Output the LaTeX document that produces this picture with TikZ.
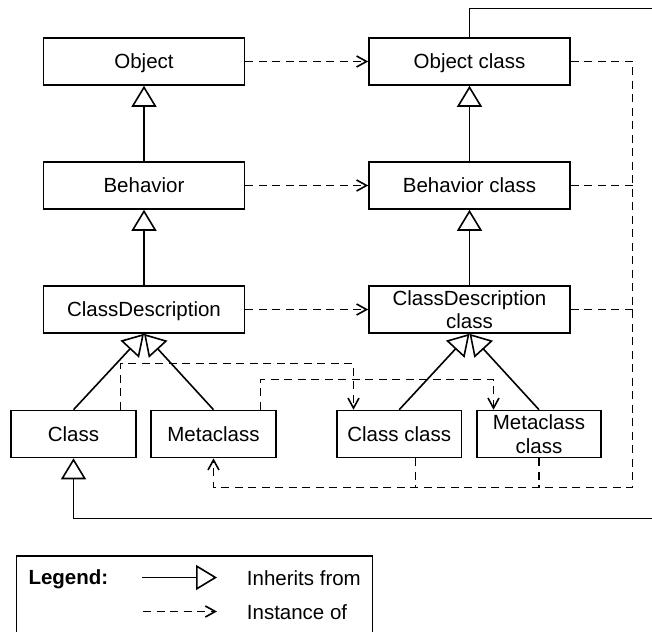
\documentclass[tikz,border=0pt]{standalone}
\usepackage{fontspec}
\setmainfont{Liberation Sans}
\usetikzlibrary{arrows.meta}
\begin{document}
\begin{tikzpicture}[x=1pt,y=-1pt,
  font=\fontsize{20.5}{23.5}\selectfont,
  wire/.style={line width=1.6pt},
  box2/.style={draw, wire, minimum width=201pt, minimum height=47pt,
               inner sep=0pt, align=center},
  box/.style={box2, text height=14.7pt, text depth=0pt},
  sbox/.style={box, minimum width=124.5pt},
  sbox2/.style={box2, minimum width=124.5pt},
  inh/.style={wire, -{Triangle[open,length=21pt,width=25pt]}},
  instline/.style={wire, dash pattern=on 8pt off 5.5pt},
  inst/.style={instline, -{Straight Barb[length=10pt,width=11pt]}},
  lbl/.style={anchor=base west, inner sep=0pt}]
\useasboundingbox (0,0) rectangle (652,631);
\clip (0,0) rectangle (652,631);

% classes (left) and their metaclasses (right)
\node[box]  (obj)  at (144,61.5)   {Object};
\node[box]  (objc) at (469.5,61.5) {Object class};
\node[box]  (beh)  at (144,185.5)  {Behavior};
\node[box]  (behc) at (469.5,185.5) {Behavior class};
\node[box]  (cd)   at (144,309.5)  {ClassDescription};
\node[box2] (cdc)  at (469.5,309.5) {ClassDescription\\class};
\node[sbox]  (cls)   at (73.5,434)  {Class};
\node[sbox]  (meta)  at (213.5,434) {Metaclass};
\node[sbox]  (clsc)  at (399.2,434) {Class class};
\node[sbox2] (metac) at (539,434)   {Metaclass\\class};

% inheritance
\draw[inh] (beh.north) -- (obj.south);
\draw[inh] (cd.north) -- (beh.south);
\draw[inh] (behc.north) -- (objc.south);
\draw[inh] (cdc.north) -- (behc.south);
\draw[inh] (cls.north) -- (cd.south);
\draw[inh] (meta.north) -- (cd.south);
\draw[inh] (clsc.north) -- (cdc.south);
\draw[inh] (metac.north) -- (cdc.south);

% Object class inherits from Class (routed around the right edge)
\coordinate (ytop) at (0,8.5);
\coordinate (ybot) at (0,518.5);
\coordinate (xfar) at (670,0);
\draw[inh] (objc.north) -- (objc.north |- ytop) -- (xfar |- ytop)
  -- (xfar |- ybot) -- (cls.south |- ybot) -- (cls.south);

% instance-of links
\draw[inst] (obj.east) -- (objc.west);
\draw[inst] (beh.east) -- (behc.west);
\draw[inst] (cd.east) -- (cdc.west);

\coordinate (rt) at (632.5,61.5);
\coordinate (rb) at (632.5,487.5);
\draw[inst] (objc.east) -- (rt) -- (rb) -- (meta.south |- rb) -- (meta.south);
\draw[instline] (behc.east) -- (behc.east -| rt);
\draw[instline] (cdc.east) -- (cdc.east -| rt);
\coordinate (ccs) at ([xshift=16.3pt]clsc.south);
\draw[instline] (ccs) -- (ccs |- rb);
\draw[instline] (metac.south) -- (metac.south |- rb);

\coordinate (a1) at ([xshift=47pt]cls.north);
\coordinate (a2) at ([xshift=-45.7pt]clsc.north);
\coordinate (h1) at (0,363.5);
\draw[inst] (a1) -- (a1 |- h1) -- (a2 |- h1) -- (a2);
\coordinate (b1) at ([xshift=47pt]meta.north);
\coordinate (b2) at ([xshift=-45.5pt]metac.north);
\coordinate (h2) at (0,379.5);
\draw[inst] (b1) -- (b1 |- h2) -- (b2 |- h2) -- (b2);

% legend
\node[draw, wire, anchor=north west, minimum width=356pt,
      minimum height=110pt, inner sep=0pt] (legend) at (15.7,555) {};
\node[lbl, font=\fontsize{20.5}{23.5}\selectfont\bfseries] (legtitle) at (28.3,584.5) {Legend:};
\coordinate (l1a) at (142,577.5);
\coordinate (l1b) at (217,577.5);
\draw[inh] (l1a) -- (l1b);
\coordinate (l2a) at (143,611.5);
\coordinate (l2b) at (217,611.5);
\draw[inst] (l2a) -- (l2b);
\node[lbl] (leginh) at (246.7,585) {Inherits from};
\node[lbl] (leginst) at (246.7,619) {Instance of};
\end{tikzpicture}
\end{document}
